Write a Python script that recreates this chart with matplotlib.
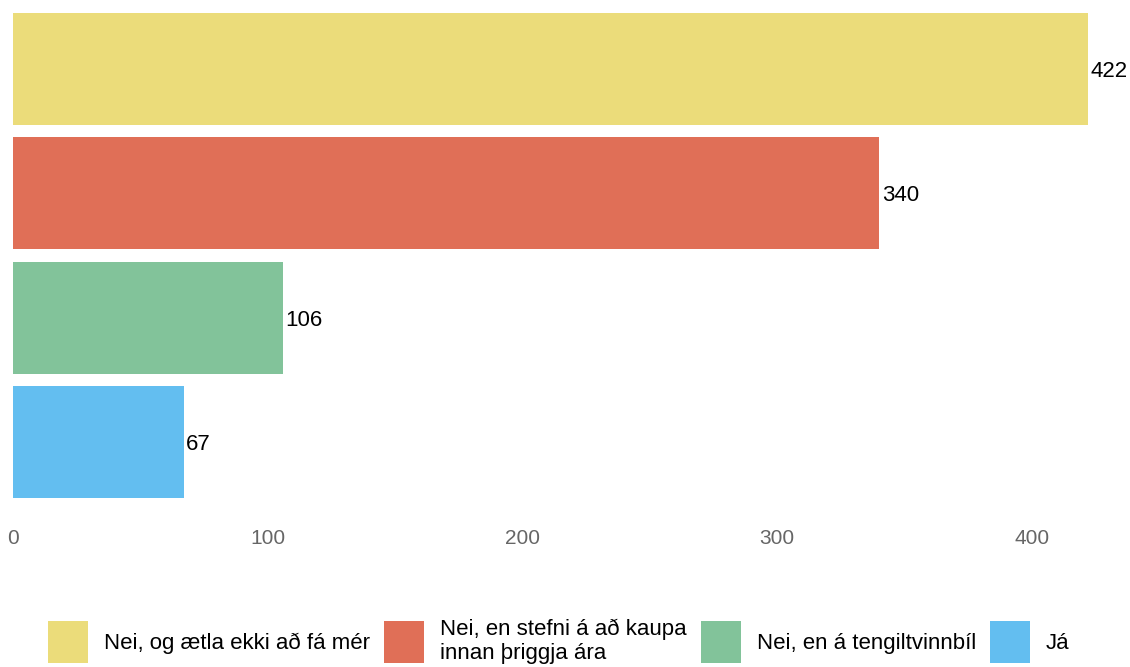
import matplotlib.pyplot as plt
from matplotlib.patches import Patch

plt.rcParams["font.family"] = ["Liberation Sans", "DejaVu Sans"]

categories = [
    "Nei, og ætla ekki að fá mér",
    "Nei, en stefni á að kaupa\ninnan þriggja ára",
    "Nei, en á tengiltvinnbíl",
    "Já",
]
values = [422, 340, 106, 67]
colors = ["#EBDC7A", "#E06F57", "#82C39A", "#63BEF0"]
ticks = [0, 100, 200, 300, 400]

fig = plt.figure(figsize=(11.3, 6.67), dpi=100)
ax = fig.add_axes([13 / 1130, 1 - 504 / 667, (1088 - 13) / 1130, 497 / 667])

pos = list(range(len(values)))
ax.barh(pos, values, height=0.9, color=colors)

for p, v in zip(pos, values):
    ax.text(v + 1, p + 0.02, str(v), va="center", ha="left", fontsize=16,
            color="black", clip_on=False)

ax.set_xlim(0, 422)
ax.set_ylim(3.5, -0.5)
ax.set_xticks(ticks)
ax.set_yticks([])
ax.tick_params(axis="x", length=0, pad=18, labelsize=15, labelcolor="#666666")
for s in ax.spines.values():
    s.set_visible(False)

handles = [Patch(facecolor=c, edgecolor="none") for c in colors]
fig.legend(handles, categories, loc="center left",
           bbox_to_anchor=(48 / 1130, 1 - 641 / 667),
           ncol=4, frameon=False, fontsize=16, borderpad=0, borderaxespad=0,
           handlelength=1.8, handleheight=2.53, handletextpad=0.72,
           columnspacing=0.63, labelspacing=0)

fig.savefig("out.png", dpi=100)
